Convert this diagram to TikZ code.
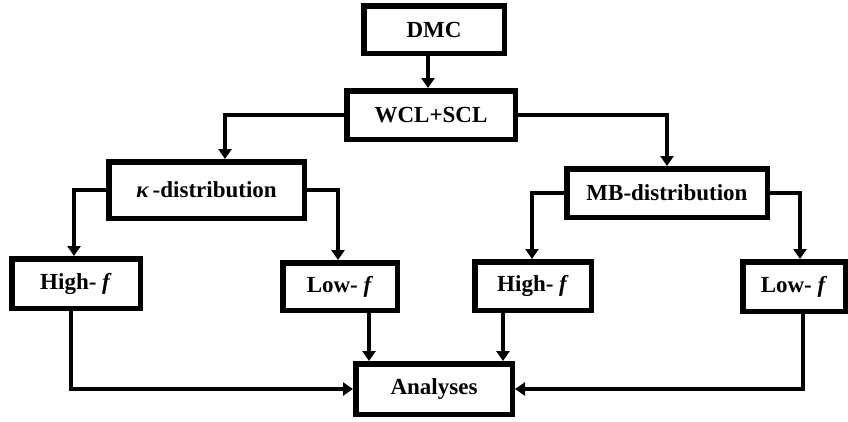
\documentclass[tikz,border=0pt]{standalone}
\usepackage{fontspec}
\setmainfont{Liberation Serif}
\usetikzlibrary{arrows.meta}
\begin{document}
\begin{tikzpicture}[x=1pt,y=-1pt,
  box/.style={draw, line width=5.5pt, inner sep=0pt, align=center,
    font=\fontsize{23}{26}\selectfont\bfseries},
  conn/.style={line width=4.5pt},
  arr/.style={conn, -{Triangle[width=13pt,length=10pt]}}]
\useasboundingbox (0,0) rectangle (848,421);
\node[box, minimum width=140.5pt, minimum height=47.5pt] (DMC) at (434,29.5) {DMC};
\node[box, minimum width=168.5pt, minimum height=48.5pt] (WCL) at (431,115) {WCL+SCL};
\node[box, minimum width=195.5pt, minimum height=56.5pt] (K) at (206.5,190) {\textit{κ}\,-distribution};
\node[box, minimum width=200.5pt, minimum height=48.5pt] (MB) at (667,193) {MB-distribution};
\node[box, minimum width=128.5pt, minimum height=49.5pt] (H1) at (76,283.5) {High- \textit{f}};
\node[box, minimum width=114.5pt, minimum height=47.5pt] (L1) at (340,286.5) {Low- \textit{f}};
\node[box, minimum width=116.5pt, minimum height=48.5pt] (H2) at (533,286) {High- \textit{f}};
\node[box, minimum width=102.5pt, minimum height=49.5pt] (L2) at (794,286.5) {Low- \textit{f}};
\node[box, minimum width=156.5pt, minimum height=50.5pt] (A) at (434,389) {Analyses};
\draw[arr] ([xshift=-6pt]DMC.south) -- ([xshift=-3pt]WCL.north);
\draw[arr] (WCL.west) -| ([xshift=18.5pt]K.north);
\draw[arr] (WCL.east) -| (MB.north);
\draw[arr] (K.west) -| ([xshift=-2pt]H1.north);
\draw[arr] (K.east) -| ([xshift=-2pt]L1.north);
\draw[arr] (MB.west) -| ([xshift=-1pt]H2.north);
\draw[arr] (MB.east) -| ([xshift=6pt]L2.north);
\draw[arr] ([xshift=-5pt]H1.south) |- (A.west);
\draw[arr] ([xshift=29pt]L1.south) -- ([xshift=-65pt]A.north);
\draw[arr] ([xshift=-30pt]H2.south) -- ([xshift=69pt]A.north);
\draw[arr] ([xshift=9pt]L2.south) |- (A.east);
\end{tikzpicture}
\end{document}
